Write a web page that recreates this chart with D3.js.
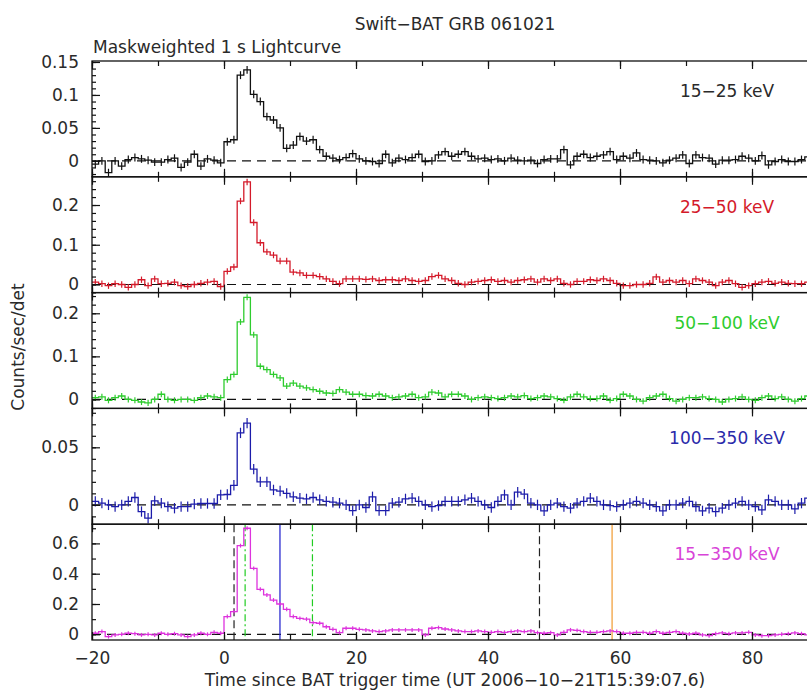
<!DOCTYPE html>
<html>
<head>
<meta charset="utf-8">
<script src="https://cdn.jsdelivr.net/npm/d3@7"></script>
<style>
body { margin: 0; background: #fff; }
text { font-family: "DejaVu Sans", sans-serif; font-size: 17px; fill: #2a2a2a; }
</style>
</head>
<body>
<div id="chart"></div>
<script>
// Swift-BAT GRB 061021, 1 s bins starting at t = -20 s
var binStart = -20;
var bandLabels = ["15\u221225 keV", "25\u221250 keV", "50\u2212100 keV", "100\u2212350 keV", "15\u2212350 keV"];

var rate15to25 = [
  -0.005, 0.0, -0.018, 0.0, -0.008, 0.002, 0.005, 0.003, 0.001, -0.002,
  -0.002, 0.002, 0.004, -0.01, -0.002, 0.01, -0.008, 0.003, 0.001, -0.003,
  0.029, 0.032, 0.13, 0.138, 0.101, 0.09, 0.067, 0.062, 0.05, 0.019,
  0.024, 0.037, 0.03, 0.032, 0.017, 0.007, 0.004, 0.002, 0.005, 0.011,
  0.003, 0.0, -0.001, -0.004, 0.01, -0.003, 0.004, 0.002, 0.005, 0.01,
  -0.001, 0.0, 0.009, 0.014,
  0.007, 0.01, 0.014, 0.007, 0.003, 0.004, 0.002, 0.003, 0.0, 0.004,
  0.001, 0.0, 0.001, -0.004, 0.002, 0.003, 0.003, 0.017, -0.006, 0.007,
  0.01, 0.005, 0.007, 0.009, 0.014, 0.002, 0.007, 0.004, 0.012, 0.002,
  0.001, 0.0, -0.003, 0.001, 0.004, 0.009, -0.004, 0.009, 0.005, 0.004,
  -0.005, 0.001, 0.001, 0.002, 0.007, 0.004, 0.0, 0.008, -0.006, -0.001,
  0.002, -0.001, -0.001, 0.002, 0.006
];
var rate25to50 = [
  0.006, 0.002, -0.003, 0.002, 0.0, -0.007, 0.0, 0.012, -0.003, 0.014,
  0.002, 0.003, 0.006, -0.003, -0.005, 0.0, 0.003, 0.006, 0.008, -0.005,
  0.033, 0.044, 0.21, 0.258, 0.156, 0.105, 0.082, 0.074, 0.059, 0.059,
  0.031, 0.029, 0.023, 0.023, 0.02, 0.014, 0.008, 0.002, 0.014, 0.014,
  0.014, 0.013, 0.014, 0.01, 0.012, 0.012, 0.01, 0.014, 0.01, 0.008,
  0.01, 0.02, 0.023, 0.014,
  0.01, 0.003, 0.0, 0.006, 0.008, 0.01, 0.012, 0.008, 0.01, 0.006,
  0.01, 0.012, 0.014, 0.006, 0.014, 0.01, 0.014, 0.003, 0.0, 0.008,
  0.008, 0.012, 0.01, 0.014, 0.01, 0.003, -0.003, -0.003, 0.0, 0.0,
  0.003, 0.019, 0.006, 0.01, 0.006, 0.01, 0.002, 0.014, 0.01, 0.006,
  -0.003, 0.006, 0.01, 0.002, -0.007, -0.003, 0.002, 0.006, 0.008, 0.003,
  0.006, 0.003, 0.002, 0.002, 0.006
];
var rate50to100 = [
  0.004, 0.006, -0.002, 0.004, 0.008, 0.0, -0.002, -0.006, -0.008, 0.0,
  0.012, 0.0, -0.002, 0.0, 0.0, -0.002, 0.004, 0.008, 0.006, 0.004,
  0.046, 0.058, 0.18, 0.237, 0.15, 0.077, 0.069, 0.058, 0.05, 0.031,
  0.038, 0.031, 0.027, 0.023, 0.019, 0.015, 0.014, 0.023, 0.017, 0.012,
  0.012, 0.009, 0.008, 0.012, 0.008, 0.004, 0.006, 0.008, 0.012, 0.004,
  0.006, 0.017, 0.015, 0.006,
  0.012, 0.012, 0.008, 0.0, 0.004, 0.006, 0.004, 0.002, 0.004, 0.008,
  0.006, 0.009, 0.002, 0.004, 0.008, 0.006, 0.002, -0.002, 0.006, 0.012,
  0.006, 0.002, 0.002, 0.008, -0.002, 0.002, 0.012, 0.008, 0.0, -0.004,
  0.004, 0.008, 0.012, 0.002, -0.004, 0.0, 0.004, 0.004, 0.006, 0.002,
  0.0, -0.006, 0.0, 0.002, 0.006, 0.0, -0.002, 0.004, 0.008, 0.002,
  0.006, 0.0, -0.004, 0.002, 0.008
];
var rate100to350 = [
  0.003, 0.0015, 0.0, -0.0015, 0.0, 0.003, 0.0064, -0.0058, -0.0116, 0.0035,
  0.0015, -0.0015, -0.0029, -0.0015, -0.0015, 0.0006, 0.0012, 0.0012, 0.0012, 0.0087,
  0.009, 0.017, 0.0625, 0.071, 0.031, 0.02, 0.02, 0.013, 0.012, 0.01,
  0.007, 0.0058, 0.0052, 0.0064, 0.0044, 0.003, 0.0023, 0.0015, 0.0, -0.005,
  0.0, -0.0023, 0.007, -0.005, -0.005, 0.0015, 0.0023, 0.0052, 0.0058, 0.003,
  0.0, -0.0015, -0.0006, 0.003,
  0.003, 0.003, 0.0044, 0.0058, 0.003, 0.0, -0.0023, 0.003, 0.0087, 0.0,
  0.011, 0.0093, 0.0015, 0.0, -0.0052, 0.0, 0.0015, -0.0015, -0.0029, 0.0015,
  0.003, 0.0058, 0.003, 0.0, -0.0006, -0.0015, 0.0, 0.0015, 0.003, 0.0015,
  0.0, -0.0015, -0.0052, 0.0, 0.0, 0.0015, 0.003, -0.0015, -0.0052, -0.0029,
  -0.0058, -0.0029, 0.0, 0.0015, 0.003, 0.0, -0.0015, -0.0044, 0.0044, 0.003,
  0.0, 0.0, -0.0035, 0.0015, 0.0058
];
var rate15to350 = [
  0.007, 0.018, -0.015, -0.004, 0.0, 0.007, 0.004, -0.004, 0.0, -0.004,
  0.007, 0.0, 0.004, -0.004, -0.015, -0.004, 0.007, 0.0, 0.013, 0.007,
  0.117, 0.15, 0.585, 0.7, 0.435, 0.297, 0.26, 0.226, 0.2, 0.165,
  0.117, 0.105, 0.1, 0.077, 0.073, 0.05, 0.033, 0.011, 0.04, 0.04,
  0.033, 0.029, 0.022, 0.018, 0.022, 0.029, 0.029, 0.029, 0.029, 0.029,
  -0.004, 0.04, 0.044, 0.035,
  0.029, 0.022, 0.018, 0.018, 0.022, 0.018, 0.013, 0.018, 0.013, 0.018,
  0.022, 0.018, 0.022, 0.011, 0.007, 0.011, -0.004, 0.013, 0.029, 0.026,
  0.018, 0.013, 0.013, 0.018, 0.022, 0.018, 0.007, 0.007, 0.013, 0.013,
  0.007, 0.018, 0.007, 0.013, 0.018, 0.007, 0.002, 0.007, -0.004, -0.009,
  0.004, 0.009, 0.004, 0.009, 0.009, 0.013, -0.004, -0.009, -0.009, -0.004,
  0.0, 0.004, 0.009, 0.004, -0.004
];
var rateErr = [0.006, 0.008, 0.007, 0.0045, 0.013];

// vertical markers in the 15-350 keV panel (seconds)
var markerTimes = [1.52, 3.2, 8.48, 13.4, 47.8, 58.8];
var markerColors = ["#222", "#22cc22", "#1a1acc", "#22cc22", "#222", "#f09a30"];
var markerDash = ["8,4", "7,3,2,3", null, "7,3,2,3", "8,4", null];

var xTicks = [-20, 0, 20, 40, 60, 80];
var yTicks = [[0, 0.05, 0.1, 0.15], [0, 0.1, 0.2], [0, 0.1, 0.2], [0, 0.05], [0, 0.2, 0.4, 0.6]];
var yMinorStep = [0.01, 0.02, 0.02, 0.01, 0.1];
var yDomains = [[-0.0242, 0.1515], [-0.0204, 0.271], [-0.0208, 0.248], [-0.0168, 0.0838], [-0.0376, 0.7267]];

var rates = [rate15to25, rate25to50, rate50to100, rate100to350, rate15to350];
var colors = ["#111", "#d41a2a", "#2ecc2e", "#1c1caa", "#dd33dd"];
var textColors = ["#2a2a2a", "#d41a2a", "#2ecc2e", "#2a2aaa", "#d844d8"];

window.onload = function() {
    var width = 807, height = 692;
    var plotTop = 61, plotBottom = 640;
    var panelH = (plotBottom - plotTop) / 5;

    var svg = d3.select("#chart").append("svg")
        .attr("width", width).attr("height", height);

    // the right frame sits just past the window edge
    var x = d3.scaleLinear().domain([-20, 90]).range([92, 818]);
    var minorX = d3.range(-20, 91, 10);

    rates.forEach(function(vals, i) {
        var top = plotTop + i * panelH, bottom = top + panelH;
        var y = d3.scaleLinear().domain(yDomains[i]).range([bottom, top]);
        var g = svg.append("g");

        // zero line
        g.append("line")
            .attr("x1", x(-20)).attr("x2", x(90))
            .attr("y1", y(0)).attr("y2", y(0))
            .attr("stroke", "#111").attr("stroke-width", 1.2)
            .attr("stroke-dasharray", "9,6");

        // trigger / T90 / T50 markers in the last panel
        if (i === 4) {
            markerTimes.forEach(function(t, k) {
                g.append("line")
                    .attr("x1", x(t)).attr("x2", x(t))
                    .attr("y1", top).attr("y2", bottom)
                    .attr("stroke", markerColors[k]).attr("stroke-width", 1.2)
                    .attr("stroke-dasharray", markerDash[k]);
            });
        }

        // step histogram
        var pts = vals.map(function(v, j) { return [binStart + j, v]; });
        pts.push([binStart + vals.length, vals[vals.length - 1]]);
        g.append("path")
            .attr("d", d3.line()
                .x(function(d) { return x(d[0]); })
                .y(function(d) { return y(d[1]); })
                .curve(d3.curveStepAfter)(pts))
            .attr("fill", "none").attr("stroke", colors[i]).attr("stroke-width", 1.3);

        // error bars at bin centres
        g.selectAll(".err")
            .data(vals)
            .enter()
            .append("line")
            .attr("x1", function(d, j) { return x(binStart + j + 0.5); })
            .attr("x2", function(d, j) { return x(binStart + j + 0.5); })
            .attr("y1", function(d) { return y(d - rateErr[i]); })
            .attr("y2", function(d) { return y(d + rateErr[i]); })
            .attr("stroke", colors[i]).attr("stroke-width", 1.2);

        // frame
        g.append("rect")
            .attr("x", x(-20)).attr("y", top)
            .attr("width", x(90) - x(-20)).attr("height", panelH)
            .attr("fill", "none").attr("stroke", "#111").attr("stroke-width", 1.3);

        // x ticks, inward on top and bottom
        [[d3.axisBottom, bottom], [d3.axisTop, top]].forEach(function(a) {
            g.append("g").attr("transform", "translate(0," + a[1] + ")")
                .call(a[0](x).tickValues(minorX).tickSize(-5).tickFormat(""))
                .call(function(s) { s.select(".domain").remove(); });
            g.append("g").attr("transform", "translate(0," + a[1] + ")")
                .call(a[0](x).tickValues(xTicks).tickSize(-8).tickFormat(""))
                .call(function(s) { s.select(".domain").remove(); });
        });

        // y ticks
        var d0 = yDomains[i];
        var minorY = d3.range(Math.ceil(d0[0] / yMinorStep[i]), Math.floor(d0[1] / yMinorStep[i]) + 1)
            .map(function(k) { return k * yMinorStep[i]; });
        g.append("g").attr("transform", "translate(" + x(-20) + ",0)")
            .call(d3.axisLeft(y).tickValues(minorY).tickSize(-4).tickFormat(""))
            .call(function(s) { s.select(".domain").remove(); });
        var yl = g.append("g").attr("transform", "translate(" + x(-20) + ",0)")
            .call(d3.axisLeft(y).tickValues(yTicks[i]).tickSize(-8).tickPadding(13)
                .tickFormat(function(v) { return String(+v.toFixed(2)); }));
        yl.select(".domain").remove();
        yl.selectAll("text").attr("font-size", null).attr("font-family", null);

        g.selectAll(".tick line").attr("stroke", "#111").attr("stroke-width", 1.2);

        // band label
        g.append("text")
            .attr("x", 727).attr("y", top + 36)
            .attr("text-anchor", "middle")
            .style("fill", textColors[i])
            .text(bandLabels[i]);

        if (i === 4) {
            var xl = g.append("g").attr("transform", "translate(0," + bottom + ")")
                .call(d3.axisBottom(x).tickValues(xTicks).tickSize(0).tickPadding(12)
                    .tickFormat(function(v) { return v < 0 ? "\u2212" + (-v) : String(v); }));
            xl.select(".domain").remove();
            xl.selectAll("text").attr("font-size", null).attr("font-family", null);
        }
    });

    // titles
    svg.append("text").attr("x", 455).attr("y", 30).attr("text-anchor", "middle")
        .text("Swift\u2212BAT GRB 061021");
    svg.append("text").attr("x", 93).attr("y", 53)
        .text("Maskweighted 1 s Lightcurve");
    svg.append("text").attr("x", 455).attr("y", 686).attr("text-anchor", "middle")
        .text("Time since BAT trigger time (UT 2006\u221210\u221221T15:39:07.6)");
    svg.append("text")
        .attr("transform", "translate(24,347) rotate(-90)")
        .attr("text-anchor", "middle")
        .text("Counts/sec/det");
};
</script>
</body>
</html>
